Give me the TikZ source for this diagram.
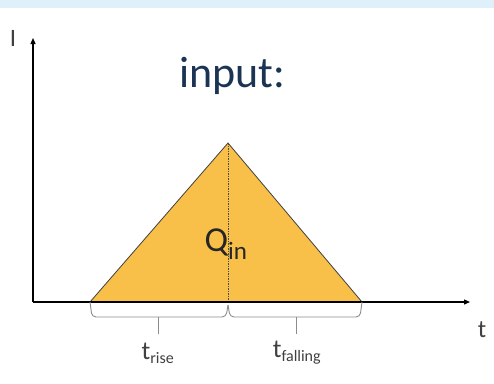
\documentclass[tikz,border=0pt]{standalone}
\usepackage{fontspec}
\setmainfont{Carlito}
\usetikzlibrary{arrows.meta}
\definecolor{fillor}{RGB}{248,192,72}
\definecolor{topband}{RGB}{224,240,250}
\definecolor{txt}{RGB}{64,64,64}
\definecolor{navy}{RGB}{28,52,84}
\definecolor{bracegray}{RGB}{140,140,140}
\begin{document}
\begin{tikzpicture}[x=1pt,y=-1pt,
  axis/.style={line width=1.2pt,-{Triangle[length=6pt,width=5pt]}},
  bracepath/.style={draw=bracegray,line width=0.9pt,rounded corners=4pt},
  lbl/.style={text=txt,inner sep=0pt}]
\useasboundingbox (0,0) rectangle (494,383);
\fill[white] (0,0) rectangle (494,383);
\fill[topband] (0,0) rectangle (494,8);
% triangle
\coordinate (L) at (90,302);
\coordinate (A) at (228,143);
\coordinate (R) at (362,302);
\coordinate (B) at (228,302);
\fill[fillor] (L) -- (A) -- (R) -- cycle;
\draw[line width=0.8pt,black!75] (L) -- (A) -- (R);
\draw[line width=0.6pt,black!70,dash pattern=on 1.5pt off 1pt] (A) -- (B);
% axes
\coordinate (O) at (33,302);
\coordinate (Ytip) at (33,38);
\coordinate (Xtip) at (470,302);
\draw[axis] (O) -- (Ytip);
\draw[axis] (O) -- (Xtip);
% braces
\coordinate (b1m) at (158,317);
\coordinate (b2m) at (296,317);
\draw[bracepath] (90,302) -- (92,317) -- (226,317) -- (228,305);
\draw[bracepath] (228,305) -- (230,317) -- (360,317) -- (362,302);
\draw[draw=bracegray,line width=0.9pt] (b1m) -- (158,334);
\draw[draw=bracegray,line width=0.9pt] (b2m) -- (296,334);
% labels
\node[text=navy,inner sep=0pt,font=\fontsize{44}{48}\selectfont] (inp) at (232,76) {input:};
\node[lbl,font=\fontsize{25}{28}\selectfont] (I) at (13,38) {I};
\node[lbl,font=\fontsize{25}{28}\selectfont] (t) at (482,330) {t};
\node[lbl,font=\fontsize{35}{38}\selectfont,text=black!85] (Q) at (226,244) {Q\textsubscript{\fontsize{25}{27}\selectfont in}};
\node[lbl,font=\fontsize{26}{30}\selectfont] (tr) at (158,353) {t\textsubscript{\fontsize{16}{18}\selectfont rise}};
\node[lbl,font=\fontsize{26}{30}\selectfont] (tf) at (297,353) {t\textsubscript{\fontsize{16}{18}\selectfont falling}};
\end{tikzpicture}
\end{document}
